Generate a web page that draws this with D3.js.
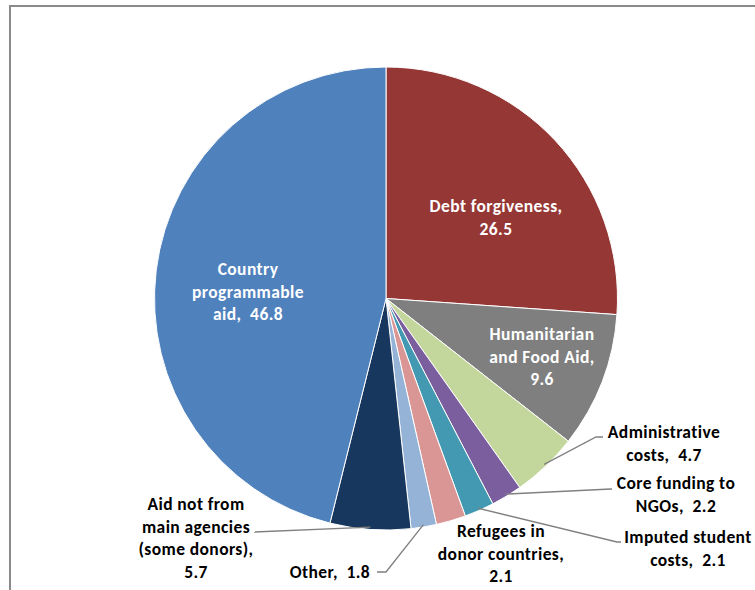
<!DOCTYPE html>
<html>
<head>
<meta charset="utf-8">
<script src="https://cdn.jsdelivr.net/npm/d3@7"></script>
<style>
html,body{margin:0;padding:0;background:#fff;}
svg{display:block;}
text{font-family:Carlito,Lato,"Open Sans",sans-serif;font-weight:bold;font-size:17.5px;letter-spacing:0.4px;}
</style>
</head>
<body>
<svg id="chart" width="755" height="590"></svg>
<script>
// ---- data ----
const categories = ["Debt forgiveness","Humanitarian and Food Aid","Administrative costs","Core funding to NGOs","Imputed student costs","Refugees in donor countries","Other","Aid not from main agencies (some donors)","Country programmable aid"];
const values = [26.5, 9.6, 4.7, 2.2, 2.1, 2.1, 1.8, 5.7, 46.8];
const labelLines = [
  ["Debt forgiveness,", "26.5"],
  ["Humanitarian", "and Food Aid,", "9.6"],
  ["Administrative", "costs,  4.7"],
  ["Core funding to", "NGOs,  2.2"],
  ["Imputed student", "costs,  2.1"],
  ["Refugees in", "donor countries,", "2.1"],
  ["Other,  1.8"],
  ["Aid not from", "main agencies", "(some donors),", "5.7"],
  ["Country", "programmable", "aid,  46.8"]
];
const colors = ["#953735","#7F7F7F","#C3D69B","#7B5E9E","#4299B1","#D99694","#95B3D7","#17375E","#4F81BD"];

// ---- layout (positions only) ----
const cx = 386, cy = 298.5, R = 231.5;
const lineH = 22.5;
const labelLayout = [
  {x:496, y:212, fill:"#fff", elbow:null},
  {x:542, y:340, fill:"#fff", elbow:null},
  {x:664, y:438, fill:"#000", elbow:[596,437], end:603},
  {x:676, y:489, fill:"#000", elbow:[611,489], end:612},
  {x:688, y:543, fill:"#000", elbow:[617,542], end:621},
  {x:501, y:537, fill:"#000", elbow:null},
  {x:330, y:578, fill:"#000", elbow:[386,572], end:377},
  {x:196, y:510, fill:"#000", elbow:[254,532], end:254},
  {x:248, y:275, fill:"#fff", elbow:null}
];

const svg = d3.select("#chart");

// frame
svg.append("rect").attr("x",10).attr("y",6).attr("width",800).attr("height",640)
  .attr("fill","none").attr("stroke","#8a8a8a").attr("stroke-width",2);

const pie = d3.pie().sort(null).value(d => d);
const arcs = pie(values);
const arc = d3.arc().innerRadius(0).outerRadius(R);

const g = svg.append("g").attr("transform",`translate(${cx},${cy})`);
g.selectAll("path.slice").data(arcs).enter().append("path")
  .attr("class","slice")
  .attr("d",arc)
  .attr("fill",(d,i)=>colors[i])
  .attr("stroke","#fff").attr("stroke-width",1);

// leader lines
arcs.forEach((d,i)=>{
  const L = labelLayout[i];
  if(!L.elbow) return;
  const a = (d.startAngle + d.endAngle)/2;
  const sx = cx + R*0.99*Math.sin(a), sy = cy - R*0.99*Math.cos(a);
  const pts = [[sx,sy],L.elbow,[L.end,L.elbow[1]]];
  svg.append("path").attr("d",d3.line()(pts))
    .attr("fill","none").attr("stroke","#808080").attr("stroke-width",1.3);
});

// labels
labelLines.forEach((lines,i)=>{
  const L = labelLayout[i];
  const t = svg.append("text").attr("text-anchor","middle").attr("fill",L.fill);
  lines.forEach((s,j)=>{
    t.append("tspan").attr("x",L.x).attr("y",L.y + j*lineH).attr("xml:space","preserve").text(s);
  });
  t.style("white-space","pre");
});
</script>
</body>
</html>
